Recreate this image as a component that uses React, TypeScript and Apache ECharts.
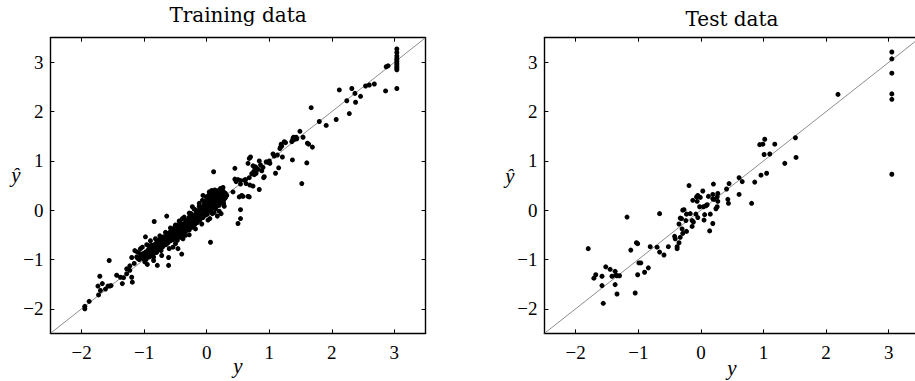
import React, { useEffect, useRef } from "react";
import * as echarts from "echarts";

const tickValues = [-2, -1, 0, 1, 2, 3];
const tickLabels = ["−2", "−1", "0", "1", "2", "3"];
const axisMin = -2.5;
const axisMax = 3.5;
const diagonal = [[-2.5, -2.5], [3.5, 3.5]];
const titles = ["Training data", "Test data"];
const xName = "y";
const yName = "ŷ";

const trainingUpper: number[][] = [
  [3.04,3.27],[3.04,3.2],[3.04,3.13],[3.04,3.08],[3.04,3.05],[3.04,3.01],[3.04,2.98],[3.04,2.95],[3.04,2.91],[3.04,2.88],[3.04,2.85],[3.04,2.47],
  [2.87,2.91],[2.9,2.93],[2.86,2.42],[2.68,2.56],[2.6,2.54],[2.54,2.52],[2.46,2.31],[2.37,2.37],[2.38,2.19],[2.32,2.47],[2.24,2.22],[2.28,1.96],
  [2.12,2.44],[2.07,1.84],[1.91,1.72],[1.8,1.8],[1.67,2.08],[1.69,1.28],[1.63,1.34],[1.6,0.96],[1.52,0.54],[1.54,1.48],[1.49,1.6],[1.43,1.48],
  [1.38,1.46],[1.36,1.39],[1.37,1.02],[1.39,1.48],[1.24,1.39],[1.19,1.34],[1.17,1.25],[1.21,1.08],[1.15,0.86],[1.1,0.75],[1.13,1.12],[1.06,1.14],
  [1.01,0.95],[0.95,0.98],[0.92,0.68],[0.88,0.8],[0.82,0.83],[0.84,0.42],[0.77,0.84],[0.75,0.78],[0.79,0.75],[0.7,1.08],[0.68,1.05],[0.66,0.95],
  [0.68,0.66],[0.74,0.49],[0.69,0.51],[0.63,0.54],[0.68,0.27],[0.58,0.28],[0.6,0.61],[0.54,0.6],[0.54,0.53],[0.47,0.58],[0.45,0.85],[0.45,0.63],
  [0.42,0.37],[0.52,0.27],[0.54,0.01],[0.54,-0.17],[0.5,-0.27],[0.11,0.78],[0.06,-0.65],
  [1.41,1.44],[1.44,1.45],[1.37,1.41],[1.2,1.3],[1.18,1.28],[0.98,0.97],[0.9,0.87],[0.91,0.66],[0.84,1.0],[0.74,0.9],[0.78,0.88],[0.8,0.85],
  [0.72,0.74],[0.76,0.72],[0.62,0.62],[0.5,0.62],[0.56,0.3],[0.66,0.28],[0.86,0.92],[1.0,1.0],[1.08,1.1],[1.26,1.37],[1.61,1.36]
];

const trainingLower: number[][] = [
  [-1.95,-1.95],[-1.95,-2.0],[-1.88,-1.85],[-1.73,-1.72],[-1.71,-1.34],[-1.74,-1.54],[-1.7,-1.63],[-1.67,-1.49],[-1.62,-1.6],[-1.58,-1.54],
  [-1.55,-1.54],[-1.53,-1.53],[-1.56,-1.02],[-1.44,-1.32],[-1.38,-1.36],[-1.35,-1.49],[-1.33,-1.37],[-1.28,-1.29],[-1.28,-1.19],[-1.23,-1.13],
  [-1.2,-0.96],[-1.19,-1.46],[-1.2,-1.36],[-1.23,-1.22],[-1.16,-1.08],[-1.1,-0.98],[-1.11,-0.85],[-1.07,-0.88],[-1.04,-0.91],[-1.02,-0.98],
  [-1.03,-0.75],[-0.98,-0.54],[-0.99,-1.05],[-0.96,-0.91],[-0.94,-0.81],[-0.91,-0.78],[-0.88,-0.71],[-0.92,-0.95],[-0.86,-0.88],[-0.83,-0.78],
  [-0.8,-0.71],[-0.79,-1.12],[-0.8,-0.85],[-0.84,-0.23],[-0.76,-0.61],[-0.72,-0.64],[-0.71,-0.75],[-0.69,-0.54],[-0.66,-0.66],[-0.64,-0.12],
  [-0.62,-0.47],[-0.61,-0.96],[-0.61,-1.12],[-0.59,-0.58],[-0.57,-0.41],[-0.54,-0.75],[-0.53,-0.51],[-0.51,-0.34],[-0.49,-0.44],[-0.47,-0.61],
  [-0.46,-0.78],[-0.43,-0.44],[-0.42,-0.26],[-0.41,-0.47],[-0.4,-0.89],[-0.39,-0.17],[-0.38,-0.3],[-0.35,-0.41],[-0.34,-0.51],[-0.33,-0.2],
  [-0.3,-0.27],[-0.28,-0.14],[-0.27,-0.34],[-0.25,-0.07],[-0.23,0.07],[-0.22,-0.2],[-0.19,-0.1],[-0.18,-0.27],[-0.17,0.0],[-0.14,-0.07],
  [-0.12,0.14],[-0.11,-0.17],[-0.1,0.03],[-0.07,0.2],[-0.06,0.3],[-0.05,-0.07],[-0.03,0.07],[-0.02,0.17],[-0.01,0.27],[0.01,0.0],
  [0.02,0.14],[0.04,0.37],[0.05,-0.17],[0.06,0.07],[0.07,0.24],[0.09,-0.07],[0.1,0.34],[0.12,0.14],[0.13,0.41],[0.14,0.03],
  [0.15,0.2],[0.17,-0.12],[0.18,0.34],[0.2,0.1],[0.21,0.2],[0.22,0.44],[0.23,-0.07],[0.25,0.27],[0.26,0.46],[0.27,0.14],[0.29,0.24],[0.3,0.34]
];

const trainingCluster: number[][] = [
  [-1.12,-0.95],[-1.08,-1.0],[-1.05,-0.92],[-1.02,-0.88],[-1.0,-0.95],[-0.98,-0.85],[-0.97,-1.0],[-0.95,-0.9],[-0.93,-0.72],[-0.92,-0.86],
  [-0.9,-0.93],[-0.89,-0.8],[-0.87,-0.75],[-0.86,-0.82],[-0.85,-0.95],[-0.84,-0.7],[-0.82,-0.78],[-0.81,-0.86],[-0.8,-0.65],[-0.78,-0.8],
  [-0.77,-0.7],[-0.75,-0.75],[-0.74,-0.58],[-0.73,-0.82],[-0.72,-0.68],[-0.7,-0.6],[-0.69,-0.72],[-0.68,-0.55],[-0.67,-0.62],[-0.65,-0.7],
  [-0.64,-0.5],[-0.63,-0.58],[-0.62,-0.66],[-0.6,-0.52],[-0.59,-0.45],[-0.58,-0.62],[-0.57,-0.5],[-0.56,-0.55],[-0.55,-0.42],[-0.54,-0.6],
  [-0.53,-0.46],[-0.52,-0.38],[-0.51,-0.52],[-0.5,-0.56],[-0.49,-0.36],[-0.48,-0.48],[-0.47,-0.4],[-0.46,-0.3],[-0.45,-0.5],[-0.44,-0.38],
  [-0.43,-0.55],[-0.42,-0.35],[-0.41,-0.42],[-0.4,-0.28],[-0.39,-0.46],[-0.38,-0.36],[-0.37,-0.5],[-0.36,-0.3],[-0.35,-0.38],[-0.34,-0.24],
  [-0.33,-0.42],[-0.32,-0.32],[-0.31,-0.22],[-0.3,-0.36],[-0.29,-0.28],[-0.28,-0.4],[-0.27,-0.18],[-0.26,-0.3],[-0.25,-0.22],[-0.24,-0.35],
  [-0.23,-0.12],[-0.22,-0.26],[-0.21,-0.16],[-0.2,-0.3],[-0.19,-0.2],[-0.18,-0.08],[-0.17,-0.22],[-0.16,-0.12],[-0.15,-0.25],[-0.14,-0.02],
  [-0.13,-0.15],[-0.12,-0.05],[-0.11,-0.2],[-0.1,-0.1],[-0.09,0.05],[-0.08,-0.12],[-0.07,0.0],[-0.06,-0.15],[-0.05,0.1],[-0.04,-0.05],
  [-0.03,0.02],[-0.02,-0.1],[-0.01,0.12],[0.0,0.05],[0.01,-0.08],[0.02,0.2],[0.03,0.08],[0.04,-0.02],[0.05,0.15],[0.06,0.3],
  [0.07,0.02],[0.08,0.18],[0.09,0.1],[0.1,0.25],[0.11,0.05],[0.12,0.3],[0.13,0.12],[0.14,0.22],[0.15,0.35],[0.16,0.08],
  [0.17,0.28],[0.18,0.18],[0.19,0.4],[0.2,0.25],[0.21,0.32],[0.22,0.15],[0.23,0.38],[0.24,0.2],[0.25,0.42],[0.26,0.3],
  [0.27,0.2],[0.28,0.36],[0.3,0.26],[0.32,0.3],
  [-1.15,-0.82],[-1.06,-0.78],[-0.96,-0.7],[-0.9,-0.62],[-0.82,-0.58],[-0.75,-0.52],[-0.66,-0.45],[-0.58,-0.36],[-0.5,-0.3],[-0.44,-0.22],
  [-0.36,-0.14],[-0.28,-0.06],[-0.2,0.02],[-0.12,0.08],[-0.04,0.18],[0.03,0.3],[0.08,0.4],[-0.95,-1.1],[-0.85,-1.02],[-0.72,-0.92],
  [-0.6,-0.78],[-0.5,-0.68],[-0.38,-0.58],[-0.28,-0.5],[-0.18,-0.38],[-0.08,-0.28],[0.02,-0.2],[0.12,-0.05],[0.2,-0.02],[0.28,0.08]
];

const testData: number[][] = [
  [3.05,3.21],[3.05,3.07],[3.05,2.78],[3.05,2.36],[3.05,2.25],[3.05,0.73],[2.19,2.35],[1.51,1.47],[1.52,1.07],[1.34,0.95],
  [1.18,1.34],[1.02,1.44],[0.99,1.34],[0.94,1.33],[1.01,1.13],[1.1,1.14],[0.96,0.71],[1.05,0.75],[0.86,0.57],[0.81,0.14],
  [0.61,0.66],[0.66,0.58],[0.61,0.32],[0.45,0.54],[0.41,0.43],[0.43,0.22],[0.44,0.14],[0.27,0.34],[0.26,0.27],[0.27,0.18],
  [0.26,0.07],[0.24,0.03],[0.2,0.53],[0.19,0.23],[0.19,0.32],[0.12,0.28],[0.21,0.22],[0.19,-0.27],[0.14,-0.42],[0.15,-0.08],
  [0.1,0.11],[0.08,0.09],[0.04,0.07],[0.06,-0.09],[0.05,-0.2],[0.03,0.39],[-0.01,0.26],[-0.02,0.07],[-0.05,-0.15],[-0.08,-0.08],
  [-0.05,0.3],[-0.07,0.27],[-0.06,0.18],[-0.13,0.2],[-0.19,0.5],[-0.17,-0.07],[-0.14,-0.21],[-0.12,-0.24],[-0.14,-0.33],[-0.27,0.01],
  [-0.29,0.0],[-0.23,-0.08],[-0.24,-0.21],[-0.23,-0.43],[-0.33,-0.16],[-0.35,-0.28],[-0.31,-0.17],[-0.3,-0.38],[-0.29,-0.47],[-0.33,-0.55],
  [-0.35,-0.66],[-0.42,-0.53],[-0.41,-0.58],[-0.38,-0.74],[-0.38,-0.78],[-0.66,-0.07],[-0.52,-0.74],[-0.59,-0.91],[-0.66,-0.85],[-0.7,-0.75],
  [-0.81,-0.74],[-0.84,-1.17],[-0.9,-1.26],[-0.96,-1.07],[-0.99,-1.07],[-1.01,-1.31],[-1.01,-0.68],[-1.03,-0.66],[-1.12,-0.81],[-1.18,-0.14],
  [-1.05,-1.68],[-1.8,-0.78],[-1.68,-1.31],[-1.71,-1.38],[-1.58,-1.34],[-1.58,-1.53],[-1.52,-1.15],[-1.56,-1.89],[-1.45,-1.2],[-1.42,-1.34],
  [-1.37,-1.24],[-1.36,-1.32],[-1.34,-1.33],[-1.3,-1.33],[-1.37,-1.51],[-1.34,-1.7]
];

const trainingData = [...trainingUpper, ...trainingLower, ...trainingCluster];

const serif = "Liberation Serif";
const titleFont = "DejaVu Serif";

const grids = [
  { left: 50.4, top: 37.7, width: 375.2, height: 295.7 },
  { left: 544.4, top: 37.7, width: 375.6, height: 295.7 },
];

function fmt(v: number) {
  const i = tickValues.indexOf(v);
  return i >= 0 ? tickLabels[i] : "";
}

function makeAxis(gridIndex: number, position: string, withLabels: boolean, isX: boolean) {
  return {
    type: "value",
    gridIndex,
    position,
    min: axisMin,
    max: axisMax,
    axisLine: { show: true, onZero: false, lineStyle: { color: "#000", width: 1.4 } },
    axisTick: {
      show: true,
      inside: true,
      length: 4,
      customValues: tickValues,
      lineStyle: { color: "#000", width: 1 },
    },
    axisLabel: {
      show: withLabels,
      customValues: tickValues,
      formatter: fmt,
      margin: isX ? 10 : 7,
      color: "#000",
      fontFamily: serif,
      fontSize: 19,
    },
    splitLine: { show: false },
  };
}

export default function App() {
  const ref = useRef<HTMLDivElement>(null);
  useEffect(() => {
    if (!ref.current) return;
    const chart = echarts.init(ref.current, null, { renderer: "svg" });
    const xAxis: any[] = [];
    const yAxis: any[] = [];
    [0, 1].forEach((g) => {
      xAxis.push(makeAxis(g, "bottom", true, true));
      xAxis.push(makeAxis(g, "top", false, true));
      yAxis.push(makeAxis(g, "left", true, false));
      yAxis.push(makeAxis(g, "right", false, false));
    });
    const datasets = [trainingData, testData];
    const series: any[] = [];
    [0, 1].forEach((g) => {
      series.push({
        type: "line",
        xAxisIndex: g * 2,
        yAxisIndex: g * 2,
        data: diagonal,
        symbol: "none",
        lineStyle: { color: "#808080", width: 0.9 },
        z: 1,
        silent: true,
      });
      series.push({
        type: "scatter",
        xAxisIndex: g * 2,
        yAxisIndex: g * 2,
        data: datasets[g],
        symbol: "circle",
        symbolSize: 5,
        itemStyle: { color: "#000", opacity: 1 },
        z: 2,
        silent: true,
      });
    });
    const nameFont = `italic 21px ${serif}`;
    const tFont = `20px ${titleFont}`;
    const graphic: any[] = [
      { type: "text", x: 238, y: 15, style: { text: titles[0], font: tFont, fill: "#000", textAlign: "center", textVerticalAlign: "middle" } },
      { type: "text", x: 732, y: 19, style: { text: titles[1], font: tFont, fill: "#000", textAlign: "center", textVerticalAlign: "middle" } },
      { type: "text", x: 238, y: 366, style: { text: xName, font: nameFont, fill: "#000", textAlign: "center", textVerticalAlign: "middle" } },
      { type: "text", x: 732, y: 368, style: { text: xName, font: nameFont, fill: "#000", textAlign: "center", textVerticalAlign: "middle" } },
      { type: "text", x: 16, y: 175, style: { text: yName, font: nameFont, fill: "#000", textAlign: "center", textVerticalAlign: "middle" } },
      { type: "text", x: 510, y: 176, style: { text: yName, font: nameFont, fill: "#000", textAlign: "center", textVerticalAlign: "middle" } },
    ];
    chart.setOption({
      animation: false,
      backgroundColor: "#fff",
      grid: grids.map((g) => ({ ...g, containLabel: false, outerBoundsMode: "none" })),
      xAxis,
      yAxis,
      series,
      graphic,
    });
    return () => chart.dispose();
  }, []);
  return (
    <div
      ref={ref}
      style={{ position: "absolute", left: 0, top: 0, width: 915, height: 381, background: "#fff" }}
    />
  );
}
